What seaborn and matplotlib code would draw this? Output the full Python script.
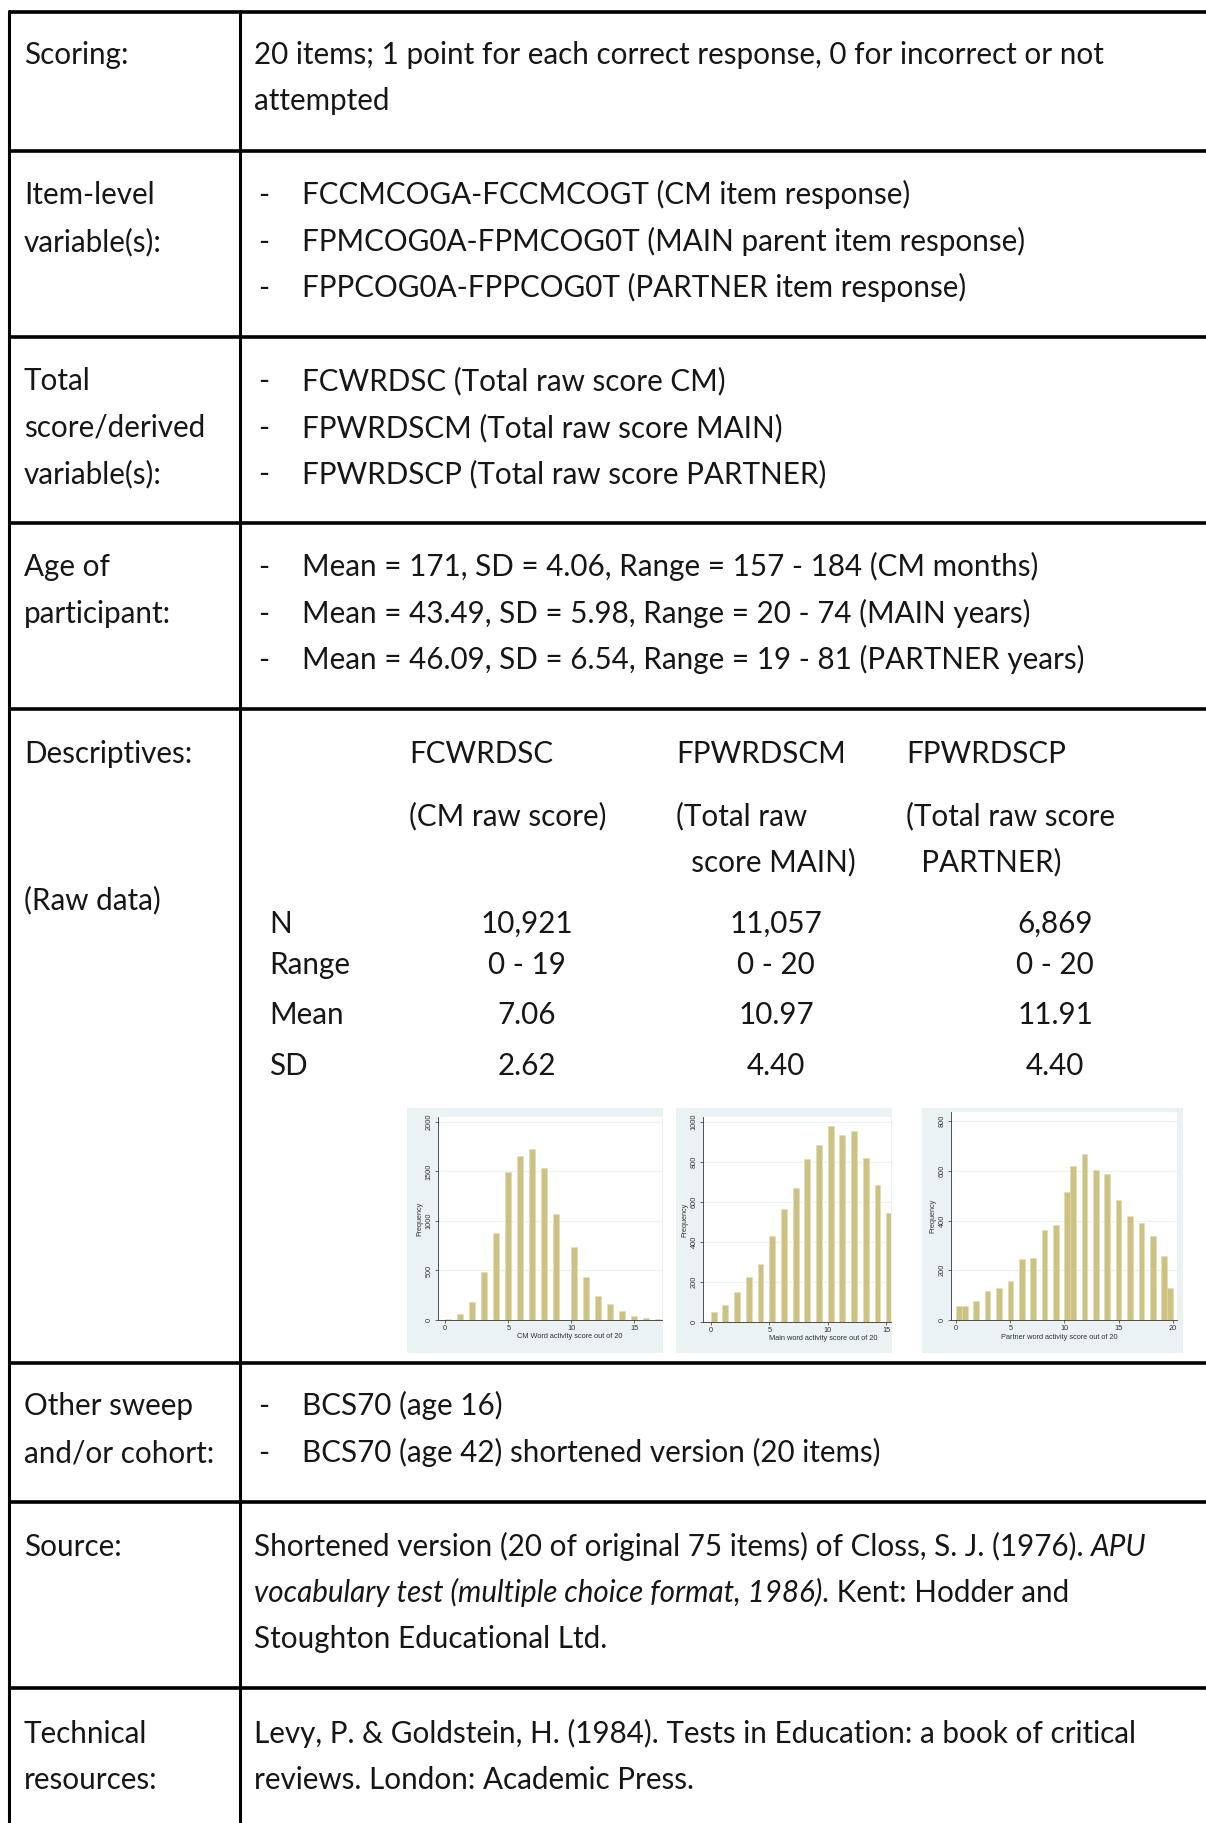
import matplotlib
matplotlib.use("Agg")
import seaborn as sns
from matplotlib import pyplot as plt
from matplotlib.patches import Rectangle

sns.set_theme(style="white")
plt.rcParams['font.family'] = ['Lato', 'DejaVu Sans']

# ---------------- table text ----------------
scoring_label = ["Scoring:"]
scoring_text = ["20 items; 1 point for each correct response, 0 for incorrect or not",
                "attempted"]
item_label = ["Item-level", "variable(s):"]
item_vars = ["FCCMCOGA-FCCMCOGT (CM item response)",
             "FPMCOG0A-FPMCOG0T (MAIN parent item response)",
             "FPPCOG0A-FPPCOG0T (PARTNER item response)"]
total_label = ["Total", "score/derived", "variable(s):"]
total_vars = ["FCWRDSC (Total raw score CM)",
              "FPWRDSCM (Total raw score MAIN)",
              "FPWRDSCP (Total raw score PARTNER)"]
age_label = ["Age of", "participant:"]
age_lines = ["Mean = 171, SD = 4.06, Range = 157 - 184 (CM months)",
             "Mean = 43.49, SD = 5.98, Range = 20 - 74 (MAIN years)",
             "Mean = 46.09, SD = 6.54, Range = 19 - 81 (PARTNER years)"]
desc_label = ["Descriptives:", "(Raw data)"]
desc_vars = ["FCWRDSC", "FPWRDSCM", "FPWRDSCP"]
desc_sub = [["(CM raw score)"], ["(Total raw", "  score MAIN)"], ["(Total raw score", "  PARTNER)"]]
stat_names = ["N", "Range", "Mean", "SD"]
stat_cm = ["10,921", "0 - 19", "7.06", "2.62"]
stat_main = ["11,057", "0 - 20", "10.97", "4.40"]
stat_partner = ["6,869", "0 - 20", "11.91", "4.40"]
other_label = ["Other sweep", "and/or cohort:"]
other_lines = ["BCS70 (age 16)", "BCS70 (age 42) shortened version (20 items)"]
source_label = ["Source:"]
source_lines = [[("Shortened version (20 of original 75 items) of Closs, S. J. (1976). ", "normal"), ("APU", "italic")],
                [("vocabulary test (multiple choice format, 1986)", "italic"), (". Kent: Hodder and", "normal")],
                [("Stoughton Educational Ltd.", "normal")]]
tech_label = ["Technical", "resources:"]
tech_lines = ["Levy, P. & Goldstein, H. (1984). Tests in Education: a book of critical",
              "reviews. London: Academic Press."]

# ---------------- histogram data ----------------
cm_scores = list(range(18))
cm_freq = [15, 64, 181, 487, 881, 1496, 1654, 1724, 1539, 1066, 736, 434, 245, 158, 94, 44, 24, 12]
main_scores = list(range(16))
main_freq = [50, 87, 150, 223, 290, 428, 567, 668, 813, 887, 980, 933, 953, 820, 687, 545]
partner_scores = list(range(21))
partner_freq = [58, 58, 77, 117, 129, 156, 245, 249, 364, 383, 516, 620, 668, 602, 588,
                481, 419, 389, 339, 258, 128]

W, H = 1206, 1823
fig = plt.figure(figsize=(W / 100, H / 100), dpi=100)
fig.patch.set_facecolor("white")
bg = fig.add_axes([0, 0, 1, 1])
bg.set_xlim(0, W)
bg.set_ylim(H, 0)
bg.axis("off")
renderer = fig.canvas.get_renderer()

FS = 21.3
TXT = "#161616"

# table grid
row_lines = [12, 151, 337, 523, 709, 1363, 1502, 1688]
for y in row_lines:
    bg.plot([9, W], [y, y], color="black", lw=2.6, solid_capstyle="butt")
bg.plot([9, 9], [11, H], color="black", lw=2.2)
bg.plot([240, 240], [11, H], color="black", lw=2.2)

LX, RX, DASH, BX = 24, 254, 258, 302


def put(x, y, s, style="normal", ha="left"):
    return bg.text(x, y - 1, s, fontsize=FS, color=TXT, ha=ha, va="baseline", style=style)


def width(s, style="normal"):
    t = put(0, -100, s, style)
    w = t.get_window_extent(renderer).width
    t.remove()
    return w


def labels(lines, ys):
    for s, y in zip(lines, ys):
        put(LX, y, s)


def bullets(lines, ys):
    for s, y in zip(lines, ys):
        put(DASH, y, "-")
        put(BX, y, s)


# rows
labels(scoring_label, [65])
for s, y in zip(scoring_text, [65, 111]):
    put(RX, y, s)

labels(item_label, [205, 252])
bullets(item_vars, [205, 252, 298])

labels(total_label, [391, 438, 484])
bullets(total_vars, [391, 438, 484])

labels(age_label, [577, 624])
bullets(age_lines, [577, 624, 670])

labels(desc_label, [764, 910])
head_x = [409, 676, 906]
for x, v, sub in zip(head_x, desc_vars, desc_sub):
    put(x, 764, v)
    for s, y in zip(sub, [826, 872]):
        put(x, y, s)
stat_y = [934, 975, 1025, 1076]
for s, y in zip(stat_names, stat_y):
    put(269, y, s)
for cx, vals in zip([527, 776, 1055], [stat_cm, stat_main, stat_partner]):
    for s, y in zip(vals, stat_y):
        put(cx, y, s, ha="center")

labels(other_label, [1416, 1463])
bullets(other_lines, [1416, 1463])

labels(source_label, [1557])
space_w = width("a a") - width("aa")
for runs, y in zip(source_lines, [1557, 1603, 1649]):
    x = RX
    for s, st in runs:
        put(x, y, s, st)
        x += width(s.rstrip(), st) + (space_w if s.endswith(" ") else 0)

labels(tech_label, [1744, 1790])
for s, y in zip(tech_lines, [1744, 1790]):
    put(RX, y, s)

# ---------------- histograms ----------------
PANEL = "#eaf2f3"
BAR = "#cbc283"
SMALL = "Liberation Sans"
hists = [
    dict(x=cm_scores, w=cm_freq, bins=40, rng=(0, 19), xlim=(-0.58, 17.2), ylim=(0, 2050),
         yt=[0, 500, 1000, 1500, 2000], xt=[0, 5, 10, 15],
         xlabel="CM Word activity score out of 20", lab_x=0.59,
         panel=(407, 1108, 663, 1353), plot=(438, 1117, 662, 1320)),
    dict(x=main_scores, w=main_freq, bins=40, rng=(0, 20), xlim=(-0.66, 15.4), ylim=(0, 1025),
         yt=[0, 200, 400, 600, 800, 1000], xt=[0, 5, 10, 15],
         xlabel="Main word activity score out of 20", lab_x=0.64,
         panel=(676, 1108, 892, 1353), plot=(703, 1117, 891, 1322)),
    dict(x=partner_scores, w=partner_freq, bins=38, rng=(0, 20), xlim=(-0.49, 20.4), ylim=(0, 837),
         yt=[0, 200, 400, 600, 800], xt=[0, 5, 10, 15, 20],
         xlabel="Partner word activity score out of 20", lab_x=0.48,
         panel=(922, 1108, 1183, 1353), plot=(951, 1112, 1177, 1320)),
]
for h in hists:
    l, t, r, b = h["panel"]
    bg.add_patch(Rectangle((l, t), r - l, b - t, facecolor=PANEL, edgecolor="none", zorder=0))
    l, t, r, b = h["plot"]
    ax = fig.add_axes([l / W, 1 - b / H, (r - l) / W, (b - t) / H])
    ax.set_facecolor("white")
    sns.histplot(x=h["x"], weights=h["w"], bins=h["bins"], binrange=h["rng"], ax=ax,
                 color=BAR, alpha=1, edgecolor="#e2dcb0", linewidth=0.4, shrink=1)
    ax.set_xlim(*h["xlim"])
    ax.set_ylim(*h["ylim"])
    ax.set_yticks(h["yt"])
    ax.set_xticks(h["xt"])
    for yv in h["yt"][1:]:
        ax.axhline(yv, color=PANEL, lw=0.9, zorder=0)
    ax.tick_params(axis="both", labelsize=5.3, length=2.2, width=0.5, pad=1.5,
                   colors="#333333", direction="out", left=True, bottom=True)
    for lab in ax.get_yticklabels():
        lab.set_rotation(90)
        lab.set_va("center")
    ax.set_xlabel(h["xlabel"], fontsize=5.3, family=SMALL, color="#333333")
    ax.xaxis.set_label_coords(h["lab_x"], -0.065)
    ax.set_ylabel("Frequency", fontsize=5.2, labelpad=1.5, family=SMALL, color="#333333")
    for lab in ax.get_xticklabels() + ax.get_yticklabels():
        lab.set_family(SMALL)
    sns.despine(ax=ax, top=True, right=True)
    for side in ["left", "bottom"]:
        ax.spines[side].set_linewidth(0.6)
        ax.spines[side].set_color("#333333")
    ax.grid(False)

fig.savefig("out.png", dpi=100)
